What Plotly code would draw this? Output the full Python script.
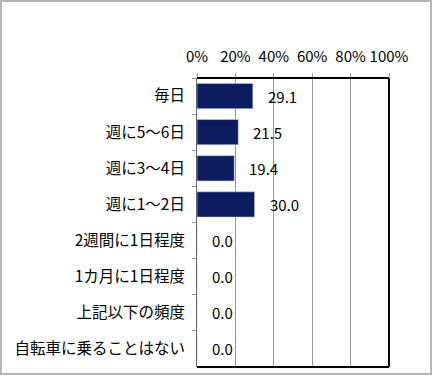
import plotly.graph_objects as go

categories = ["毎日", "週に5～6日", "週に3～4日", "週に1～2日",
              "2週間に1日程度", "1カ月に1日程度", "上記以下の頻度", "自転車に乗ることはない"]
values = [29.1, 21.5, 19.4, 30.0, 0.0, 0.0, 0.0, 0.0]
tick_vals = [0, 20, 40, 60, 80, 100]
tick_text = ["0%", "20%", "40%", "60%", "80%", "100%"]

FONT = "Noto Sans CJK JP, Noto Sans, sans-serif"
BAR = "#0b1d5e"

L, R, T, B = 197, 389, 78, 367
W, H = 433, 377
pw, ph = R - L, B - T

fig = go.Figure()
fig.add_trace(go.Bar(
    x=values, y=categories, orientation="h",
    marker=dict(color=BAR, line=dict(color="#c8d0e8", width=0.6)),
    hoverinfo="skip",
))

for c, v in zip(categories, values):
    fig.add_annotation(x=v, y=c, text=f"{v:.1f}", showarrow=False,
                       xanchor="left", xshift=13, yshift=0,
                       font=dict(family=FONT, size=15, color="#000"))

fig.update_layout(
    width=W, height=H,
    margin=dict(l=L, r=W - R, t=T, b=H - B, autoexpand=False),
    paper_bgcolor="white", plot_bgcolor="white",
    showlegend=False, bargap=0.3,
    font=dict(family=FONT, size=15, color="#000"),
    xaxis=dict(side="top", range=[0, 100], tickvals=tick_vals, ticktext=tick_text,
               showgrid=True, gridcolor="#999999", gridwidth=1,
               ticks="outside", ticklen=4, tickcolor="#999999",
               zeroline=False, showline=False, fixedrange=True, automargin=False,
               ticklabelstandoff=5,
               tickfont=dict(family=FONT, size=15)),
    yaxis=dict(autorange="reversed", ticks="outside", tickson="boundaries",
               ticklen=4, tickcolor="#999999", showline=True, linecolor="#666666",
               linewidth=1, showgrid=False, fixedrange=True, automargin=False,
               ticklabelstandoff=8, tickfont=dict(family=FONT, size=15.5)),
    shapes=[
        dict(type="line", xref="paper", yref="paper", x0=0, x1=1, y0=1, y1=1,
             line=dict(color="#000", width=2)),
        dict(type="line", xref="paper", yref="paper", x0=1, x1=1, y0=0, y1=1,
             line=dict(color="#000", width=2)),
        dict(type="line", xref="paper", yref="paper", x0=0, x1=1, y0=0, y1=0,
             line=dict(color="#000", width=2)),
        dict(type="rect", xref="paper", yref="paper",
             x0=(1 - L) / pw, x1=(431 - L) / pw,
             y0=(B - 374) / ph, y1=(B - 1) / ph,
             line=dict(color="#b5b5b5", width=2)),
    ],
)

fig.write_html("out.html", config={"displayModeBar": False},
               post_script="document.body.style.margin='0';document.body.style.overflow='hidden';")
